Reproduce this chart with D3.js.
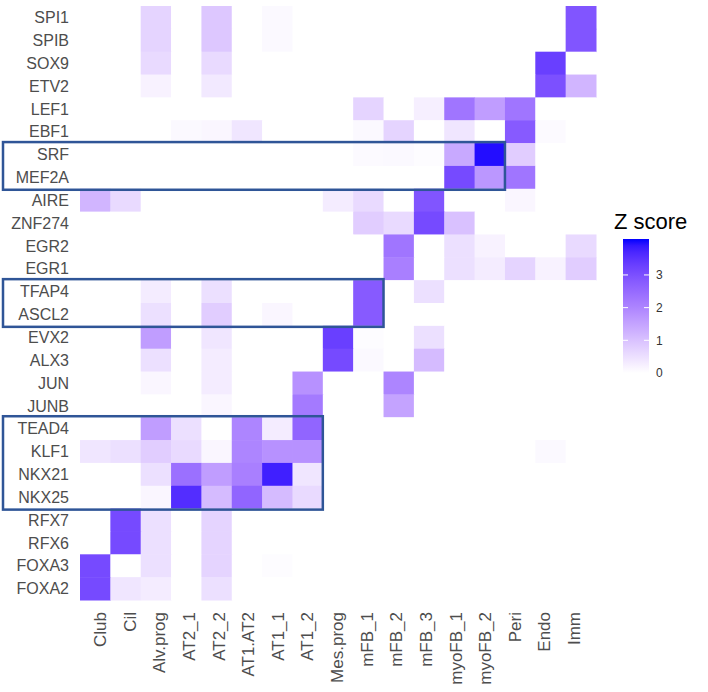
<!DOCTYPE html>
<html>
<head>
<meta charset="utf-8">
<script src="https://cdn.jsdelivr.net/npm/d3@7"></script>
<style>
  body { margin: 0; background: #fff; }
  text { font-family: "Liberation Sans", Arial, sans-serif; }
</style>
</head>
<body>
<div id="heatmap"></div>
<script>
const genes = ["SPI1", "SPIB", "SOX9", "ETV2", "LEF1", "EBF1", "SRF", "MEF2A", "AIRE", "ZNF274",
  "EGR2", "EGR1", "TFAP4", "ASCL2", "EVX2", "ALX3", "JUN", "JUNB", "TEAD4", "KLF1",
  "NKX21", "NKX25", "RFX7", "RFX6", "FOXA3", "FOXA2"];

const cellTypes = ["Club", "Cil", "Alv.prog", "AT2_1", "AT2_2", "AT1.AT2", "AT1_1", "AT1_2", "Mes.prog",
  "mFB_1", "mFB_2", "mFB_3", "myoFB_1", "myoFB_2", "Peri", "Endo", "Imm"];

// one row per gene, columns follow cellTypes
const zScores = [
  [0, 0, 0.7, 0, 0.9, 0, 0.1, 0, 0, 0, 0, 0, 0, 0, 0, 0, 2.9],
  [0, 0, 0.7, 0, 0.9, 0, 0.1, 0, 0, 0, 0, 0, 0, 0, 0, 0, 2.9],
  [0, 0, 0.6, 0, 0.6, 0, 0, 0, 0, 0, 0, 0, 0, 0, 0, 3.3, 0],
  [0, 0, 0.2, 0, 0.35, 0, 0, 0, 0, 0, 0, 0, 0, 0, 0, 3.0, 1.2],
  [0, 0, 0, 0, 0, 0, 0, 0, 0, 0.7, 0, 0.25, 2.3, 1.6, 2.3, 0, 0],
  [0, 0, 0, 0.1, 0.15, 0.4, 0, 0, 0, 0.1, 0.7, 0, 0.4, 0, 2.8, 0.08, 0],
  [0, 0, 0, 0, 0, 0, 0, 0, 0, 0.08, 0.1, 0.05, 1.4, 4.0, 0.8, 0, 0],
  [0, 0, 0, 0, 0, 0, 0, 0, 0, 0, 0, 0, 3.1, 1.7, 2.3, 0, 0],
  [1.2, 0.6, 0, 0, 0, 0, 0, 0, 0.3, 0.6, 0, 2.9, 0, 0, 0.15, 0, 0],
  [0, 0, 0, 0, 0, 0, 0, 0, 0, 0.8, 0.6, 3.1, 1.0, 0, 0, 0, 0],
  [0, 0, 0, 0, 0, 0, 0, 0, 0, 0, 2.3, 0, 0.5, 0.2, 0, 0, 0.6],
  [0, 0, 0, 0, 0, 0, 0, 0, 0, 0, 2.1, 0, 0.5, 0.3, 0.7, 0.2, 0.8],
  [0, 0, 0.3, 0, 0.5, 0, 0, 0, 0, 2.8, 0, 0.5, 0, 0, 0, 0, 0],
  [0, 0, 0.5, 0, 0.8, 0, 0.15, 0, 0, 2.8, 0, 0, 0, 0, 0, 0, 0],
  [0, 0, 1.6, 0, 0.4, 0, 0, 0, 3.3, 0.05, 0, 0.5, 0, 0, 0, 0, 0],
  [0, 0, 0.5, 0, 0.3, 0, 0, 0, 3.1, 0.1, 0, 1.1, 0, 0, 0, 0, 0],
  [0, 0, 0.15, 0, 0.3, 0, 0, 1.8, 0, 0, 2.0, 0, 0, 0, 0, 0, 0],
  [0, 0, 0, 0, 0.15, 0, 0, 2.2, 0, 0, 1.5, 0, 0, 0, 0, 0, 0],
  [0, 0, 1.6, 0.5, 0, 2.0, 0.3, 2.6, 0, 0, 0, 0, 0, 0, 0, 0, 0],
  [0.4, 0.5, 0.8, 0.6, 0.15, 2.0, 1.8, 1.8, 0, 0, 0, 0, 0, 0, 0, 0.1, 0],
  [0, 0, 0.5, 2.4, 1.6, 2.1, 3.8, 0.4, 0, 0, 0, 0, 0, 0, 0, 0, 0],
  [0, 0, 0.15, 3.6, 1.1, 2.6, 1.1, 0.6, 0, 0, 0, 0, 0, 0, 0, 0, 0],
  [0, 3.1, 0.5, 0, 0.7, 0, 0, 0, 0, 0, 0, 0, 0, 0, 0, 0, 0],
  [0, 3.1, 0.5, 0, 0.7, 0, 0, 0, 0, 0, 0, 0, 0, 0, 0, 0, 0],
  [3.1, 0, 0.5, 0, 0.7, 0, 0.05, 0, 0, 0, 0, 0, 0, 0, 0, 0, 0],
  [3.1, 0.4, 0.3, 0, 0.5, 0, 0, 0, 0, 0, 0, 0, 0, 0, 0, 0, 0]
];

const legendTicks = [0, 1, 2, 3];
const zMax = 4.1;

// highlighted blocks: first gene, last gene, last cell type
const highlightBoxes = [
  ["SRF", "MEF2A", "myoFB_2"],
  ["TFAP4", "ASCL2", "mFB_1"],
  ["TEAD4", "NKX25", "AT1_2"]
];

const width = 708, height = 692;
const plot = {left: 80, right: 596, top: 6, bottom: 600};

const svg = d3.select("#heatmap").append("svg")
  .attr("width", width)
  .attr("height", height);

const x = d3.scaleBand().domain(cellTypes).range([plot.left, plot.right]);
const y = d3.scaleBand().domain(genes).range([plot.top, plot.bottom]);
// the column labels in the figure sit on a slightly narrower spacing than the cells
const xLabel = d3.scalePoint().domain(cellTypes).range([100, 574]);

const color = d3.scaleLinear()
  .domain([0, zMax / 2, zMax])
  .range(["#ffffff", "#AB82FF", "#0000FF"])
  .interpolate(d3.interpolateLab)
  .clamp(true);

const cells = [];
genes.forEach((g, i) => {
  cellTypes.forEach((c, j) => cells.push({gene: g, cell: c, z: zScores[i][j]}));
});

svg.append("g").selectAll("rect")
  .data(cells)
  .join("rect")
  .attr("x", d => x(d.cell))
  .attr("y", d => y(d.gene))
  .attr("width", x.bandwidth() + 0.5)
  .attr("height", y.bandwidth() + 0.5)
  .attr("fill", d => color(d.z));

// row labels
svg.append("g").selectAll("text")
  .data(genes)
  .join("text")
  .attr("x", plot.left - 11)
  .attr("y", d => y(d) + y.bandwidth() / 2)
  .attr("dy", "0.36em")
  .attr("text-anchor", "end")
  .attr("fill", "#4d4d4d")
  .style("font-size", "16px")
  .text(d => d);

// column labels
svg.append("g").selectAll("text")
  .data(cellTypes)
  .join("text")
  .attr("transform", d => `translate(${xLabel(d) + 6},612) rotate(-90)`)
  .attr("text-anchor", "end")
  .attr("fill", "#4d4d4d")
  .style("font-size", "17px")
  .text(d => d);

// boxes
svg.append("g").selectAll("rect")
  .data(highlightBoxes)
  .join("rect")
  .attr("x", 3)
  .attr("y", d => y(d[0]) - 1)
  .attr("width", d => x(d[2]) + x.bandwidth() - 3)
  .attr("height", d => y(d[1]) + y.bandwidth() - y(d[0]) + 2)
  .attr("fill", "none")
  .attr("stroke", "#2F5597")
  .attr("stroke-width", 2.5);

// legend
const legend = svg.append("g");
const ly = d3.scaleLinear().domain([0, zMax]).range([373, 239]);
const grad = svg.append("defs").append("linearGradient")
  .attr("id", "zgrad")
  .attr("x1", 0).attr("y1", 1).attr("x2", 0).attr("y2", 0);
d3.range(0, 1.0001, 0.05).forEach(t => {
  grad.append("stop").attr("offset", t).attr("stop-color", color(t * zMax));
});
legend.append("rect")
  .attr("x", 623).attr("y", ly(zMax))
  .attr("width", 26).attr("height", ly(0) - ly(zMax))
  .attr("fill", "url(#zgrad)");
legend.selectAll("line.tick")
  .data(legendTicks)
  .join("line")
  .attr("class", "tick")
  .attr("x1", 623).attr("x2", 628)
  .attr("y1", d => ly(d)).attr("y2", d => ly(d))
  .attr("stroke", "#fff").attr("stroke-width", 1);
legend.selectAll("line.tick2")
  .data(legendTicks)
  .join("line")
  .attr("class", "tick2")
  .attr("x1", 644).attr("x2", 649)
  .attr("y1", d => ly(d)).attr("y2", d => ly(d))
  .attr("stroke", "#fff").attr("stroke-width", 1);
legend.selectAll("text.lab")
  .data(legendTicks)
  .join("text")
  .attr("class", "lab")
  .attr("x", 656)
  .attr("y", d => ly(d))
  .attr("dy", "0.36em")
  .attr("fill", "#333")
  .style("font-size", "12px")
  .text(d => d);
legend.append("text")
  .attr("x", 614).attr("y", 229)
  .attr("fill", "#000")
  .style("font-size", "22px")
  .text("Z score");
</script>
</body>
</html>
